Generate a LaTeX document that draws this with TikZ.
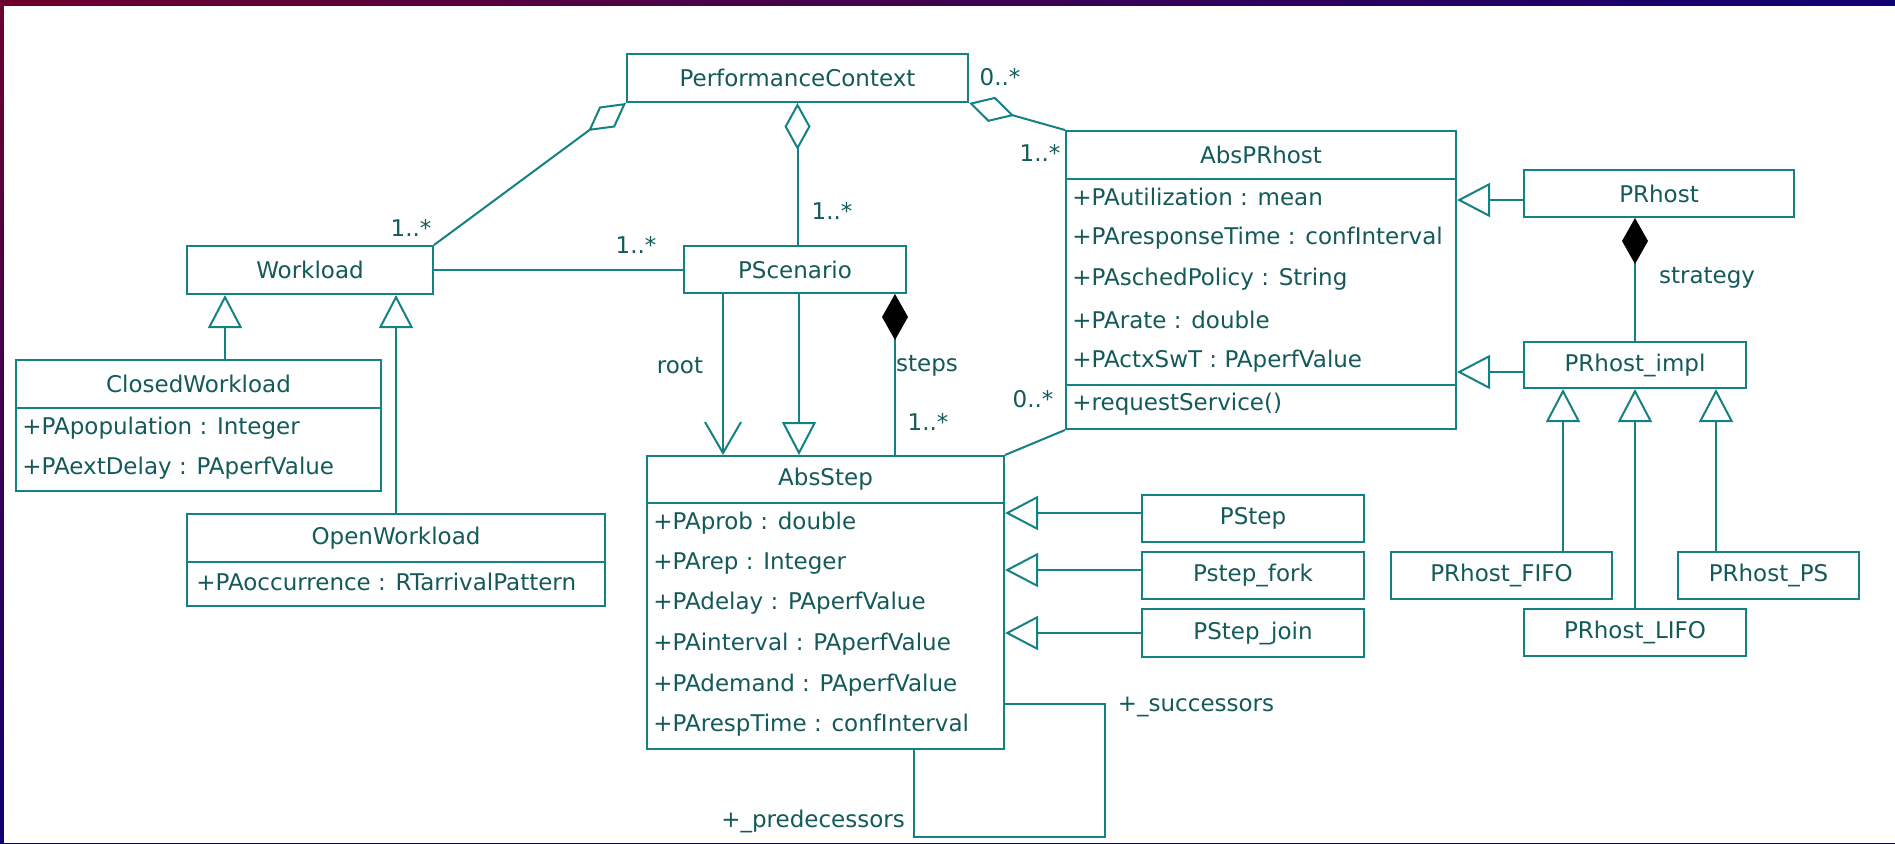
\documentclass[tikz,border=0pt]{standalone}
\usepackage{fontspec}
\setmainfont{DejaVu Sans}
\usetikzlibrary{arrows.meta,fit,shadings}
\definecolor{ln}{RGB}{20,130,130}
\definecolor{tx}{RGB}{20,90,90}
\definecolor{bgA}{RGB}{110,0,45}
\definecolor{bgB}{RGB}{15,0,115}
\begin{document}
\begin{tikzpicture}[x=0.5pt,y=-0.5pt,
  font=\fontsize{11.5pt}{13pt}\selectfont,
  box/.style={draw=ln, line width=1pt, inner sep=0pt},
  ttl/.style={inner sep=0pt, text=tx},
  attr/.style={anchor=west, inner sep=0pt, text=tx},
  lbl/.style={inner sep=0pt, text=tx},
  conn/.style={draw=ln, line width=1pt},
  gen/.style={conn, -{Triangle[open,length=16.5pt,width=17pt]}},
  agg/.style={conn, {Diamond[open,length=23.5pt,width=13pt]}-},
  comp/.style={conn, {Diamond[length=23pt,width=13pt,color=black,fill=black]}-},
  nav/.style={conn, -{Straight Barb[length=15.5pt,width=18pt]}},
]
\useasboundingbox (0,0) rectangle (1895,843);
\shade[upper left=bgA, upper right=bgB, lower left=bgB, lower right=bgB] (0,0) rectangle (1895,843);
\fill[white] (4,6) rectangle (1895,843);

% classes
\node[box, fit={(627,54) (968,102)}] (pc) {};
\node[ttl] (pct) at (pc.center) {PerformanceContext};
\node[box, fit={(187,246) (433,294)}] (wl) {};
\node[ttl] (wlt) at (wl.center) {Workload};
\node[box, fit={(684,246) (906,293)}] (ps) {};
\node[ttl] (pst0) at (ps.center) {PScenario};

\node[box, fit={(1066,131) (1456,179)}] (aph) {};
\node[ttl] (apht) at (aph.center) {AbsPRhost};
\node[box, fit={(1066,179) (1456,385)}] (apa) {};
\node[box, fit={(1066,385) (1456,429)}] (apo) {};
\node[attr] (ap1) at (1072,197) {+PAutilization : mean};
\node[attr] (ap2) at (1072,238) {+PAresponseTime : confInterval};
\node[attr] (ap3) at (1072,279) {+PAschedPolicy : String};
\node[attr] (ap4) at (1072,320) {+PArate : double};
\node[attr] (ap5) at (1072,361) {+PActxSwT : PAperfValue};
\node[attr] (ap6) at (1072,404) {+requestService()};

\node[box, fit={(1524,170) (1794,217)}] (prh) {};
\node[ttl] (prht) at (prh.center) {PRhost};
\node[box, fit={(1524,342) (1746,388)}] (pri) {};
\node[ttl] (prit) at (pri.center) {PRhost\_impl};
\node[box, fit={(1391,552) (1612,599)}] (prf) {};
\node[ttl] (prft) at (prf.center) {PRhost\_FIFO};
\node[box, fit={(1678,552) (1859,599)}] (prp) {};
\node[ttl] (prpt) at (prp.center) {PRhost\_PS};
\node[box, fit={(1524,609) (1746,656)}] (prl) {};
\node[ttl] (prlt) at (prl.center) {PRhost\_LIFO};

\node[box, fit={(16,360) (381,408)}] (cwh) {};
\node[ttl] (cwht) at (cwh.center) {ClosedWorkload};
\node[box, fit={(16,408) (381,491)}] (cwa) {};
\node[attr] (cw1) at (22,428) {+PApopulation : Integer};
\node[attr] (cw2) at (22,468) {+PAextDelay : PAperfValue};

\node[box, fit={(187,514) (605,562)}] (owh) {};
\node[ttl] (owht) at (owh.center) {OpenWorkload};
\node[box, fit={(187,562) (605,606)}] (owa) {};
\node[attr] (ow1) at (196,582) {+PAoccurrence : RTarrivalPattern};

\node[box, fit={(647,456) (1004,503)}] (ash) {};
\node[ttl] (asht) at (ash.center) {AbsStep};
\node[box, fit={(647,503) (1004,749)}] (asa) {};
\node[attr] (as1) at (653,523) {+PAprob : double};
\node[attr] (as2) at (653,563) {+PArep : Integer};
\node[attr] (as3) at (653,603) {+PAdelay : PAperfValue};
\node[attr] (as4) at (653,644) {+PAinterval : PAperfValue};
\node[attr] (as5) at (653,685) {+PAdemand : PAperfValue};
\node[attr] (as6) at (653,725) {+PArespTime : confInterval};

\node[box, fit={(1142,495) (1364,542)}] (pst) {};
\node[ttl] (pstt) at (pst.center) {PStep};
\node[box, fit={(1142,552) (1364,599)}] (psf) {};
\node[ttl] (psft) at (psf.center) {Pstep\_fork};
\node[box, fit={(1142,609) (1364,657)}] (psj) {};
\node[ttl] (psjt) at (psj.center) {PStep\_join};

% connectors
\draw[agg] (pc.south west) -- (wl.north east);
\draw[agg] (pc.south) -- (pc.south |- ps.north);
\draw[agg] (pc.south east) -- (aph.north west);
\draw[conn] (wl.east) -- (wl.east -| ps.west);

\path ([xshift=13.25pt]cwh.north) coordinate (g1);
\draw[gen] (g1) -- (g1 |- wl.south);
\draw[gen] (owh.north) -- (owh.north |- wl.south);

\path ([xshift=-36pt]ps.south) coordinate (r1);
\draw[nav] (r1) -- (r1 |- ash.north);
\path ([xshift=2pt]ps.south) coordinate (r2);
\draw[gen] (r2) -- (r2 |- ash.north);
\path ([xshift=50pt]ps.south) coordinate (r3);
\draw[comp] (r3) -- (r3 |- ash.north);

\draw[conn] (apo.south west) -- (ash.north east);

\path ([yshift=-3.25pt]prh.west) coordinate (h1);
\draw[gen] (h1) -- (h1 -| apa.east);
\path ([yshift=-3.5pt]pri.west) coordinate (h2);
\draw[gen] (h2) -- (h2 -| apa.east);
\path ([xshift=-12pt]prh.south) coordinate (h3);
\draw[comp] (h3) -- (h3 |- pri.north);
\path ([xshift=30.75pt]prf.north) coordinate (h4);
\draw[gen] (h4) -- (h4 |- pri.south);
\draw[gen] (prl.north) -- (prl.north |- pri.south);
\path ([xshift=-26.25pt]prp.north) coordinate (h5);
\draw[gen] (h5) -- (h5 |- pri.south);

\path ([yshift=2.75pt]pst.west) coordinate (s1);
\draw[gen] (s1) -- (s1 -| asa.east);
\path ([yshift=2.75pt]psf.west) coordinate (s2);
\draw[gen] (s2) -- (s2 -| asa.east);
\draw[gen] (psj.west) -- (psj.west -| asa.east);

\draw[conn] ([yshift=-39pt]asa.east) -- ++(100,0) -- ++(0,133) -| ([xshift=44.25pt]asa.south);

% labels
\node[lbl] (m1) at (411,228) {1..*};
\node[lbl] (m2) at (832,211) {1..*};
\node[lbl] (m3) at (1000,77) {0..*};
\node[lbl] (m4) at (1040,153) {1..*};
\node[lbl] (m5) at (636,245) {1..*};
\node[lbl] (m6) at (680,366) {root};
\node[lbl] (m7) at (927,366) {steps};
\node[lbl] (m8) at (928,422) {1..*};
\node[lbl] (m9) at (1033,399) {0..*};
\node[lbl] (m10) at (1707,278) {strategy};
\node[lbl] (m11) at (1196,707) {+\_successors};
\node[lbl] (m12) at (813,821) {+\_predecessors};
\end{tikzpicture}
\end{document}
